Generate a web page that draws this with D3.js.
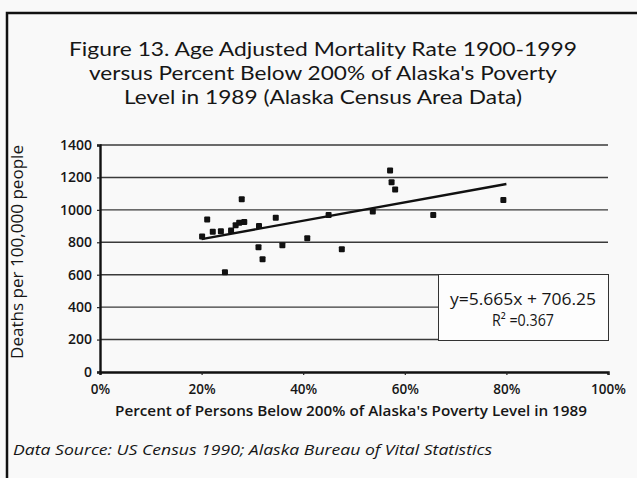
<!DOCTYPE html>
<html>
<head>
<meta charset="utf-8">
<script src="https://cdn.jsdelivr.net/npm/d3@7"></script>
<style>
  html, body { margin: 0; padding: 0; background: #f9f9f9; }
  svg { display: block; }
</style>
</head>
<body>
<div id="chart"></div>
<script>
// Figure 13 - mortality rate vs percent below 200% poverty level (scatter + trend line)

const titleLines = [
    'Figure 13. Age Adjusted Mortality Rate 1900-1999',
    "versus Percent Below 200% of Alaska's Poverty",
    'Level in 1989 (Alaska Census Area Data)'
];
const titleWidths = [508, 468, 398];
const xTicks = [0, 20, 40, 60, 80, 100];
const yTicks = [0, 200, 400, 600, 800, 1000, 1200, 1400];

// percent below 200% poverty level
const povertyPct = [20.1, 21.1, 22.2, 23.8, 24.6, 25.8, 26.7, 27.4, 27.9, 28.4,
                    31.3, 31.2, 32.0, 34.6, 35.9, 40.8, 45.0, 47.6, 53.7, 57.1,
                    57.4, 58.1, 65.6, 79.4];
// deaths per 100,000 people
const deathRate  = [835, 940, 865, 868, 615, 872, 905, 920, 1065, 925,
                    900, 770, 695, 952, 782, 825, 968, 757, 990, 1242,
                    1170, 1125, 968, 1061];

const slope = 5.665;
const intercept = 706.25;
const trendRange = [20, 80];
const equationText = ['y=5.665x + 706.25', 'R² =0.367'];

const xLabel = "Percent of Persons Below 200% of Alaska's Poverty Level in 1989";
const yLabel = 'Deaths per 100,000 people';
const sourceText = 'Data Source: US Census 1990; Alaska Bureau of Vital Statistics';

const width = 637, height = 478;
const plot = { left: 100, right: 608, top: 145, bottom: 372 };
const font = "'Open Sans', 'Noto Sans', sans-serif";
const titleFont = "Lato, 'Open Sans', sans-serif";
const ink = '#161616';

const svg = d3.select('#chart')
    .append('svg')
    .attr('width', width)
    .attr('height', height);

// frame (top and left edges only)
svg.append('path')
    .attr('d', `M7,${height} L7,13 L${width},13`)
    .attr('fill', 'none')
    .attr('stroke', '#111')
    .attr('stroke-width', 2.5);

// title
svg.append('g')
    .selectAll('text')
    .data(titleLines)
    .enter()
    .append('text')
    .attr('x', 323)
    .attr('y', (d, i) => 56 + i * 24)
    .attr('text-anchor', 'middle')
    .attr('textLength', (d, i) => titleWidths[i])
    .attr('lengthAdjust', 'spacingAndGlyphs')
    .style('font-family', titleFont)
    .style('font-size', '20px')
    .style('fill', ink)
    .text(d => d);

const xScale = d3.scaleLinear()
    .domain([0, 100])
    .range([plot.left, plot.right]);

const yScale = d3.scaleLinear()
    .domain([0, 1400])
    .range([plot.bottom, plot.top]);

// grid lines
svg.append('g')
    .selectAll('line')
    .data(yTicks.filter(d => d > 0))
    .enter()
    .append('line')
    .attr('x1', plot.left)
    .attr('x2', plot.right)
    .attr('y1', d => yScale(d))
    .attr('y2', d => yScale(d))
    .attr('stroke', '#3a3a3a')
    .attr('stroke-width', 1.4);

// equation box
const box = svg.append('g');
box.append('rect')
    .attr('x', 438.5)
    .attr('y', 274.5)
    .attr('width', 170)
    .attr('height', 66)
    .attr('fill', '#fdfdfd')
    .attr('stroke', '#333')
    .attr('stroke-width', 1);
box.selectAll('text')
    .data(equationText)
    .enter()
    .append('text')
    .attr('x', 523)
    .attr('y', (d, i) => 305 + i * 21)
    .attr('text-anchor', 'middle')
    .attr('textLength', (d, i) => i === 0 ? 146 : 62)
    .attr('lengthAdjust', 'spacingAndGlyphs')
    .style('font-family', font)
    .style('font-size', '16px')
    .style('fill', ink)
    .text(d => d);

// axes
const xAxis = svg.append('g')
    .attr('transform', `translate(0,${plot.bottom})`)
    .call(d3.axisBottom(xScale)
        .tickValues(xTicks)
        .tickSize(3)
        .tickFormat(d => d + '%'));

const yAxis = svg.append('g')
    .attr('transform', `translate(${plot.left},0)`)
    .call(d3.axisLeft(yScale)
        .tickValues(yTicks)
        .tickSize(3)
        .tickPadding(5)
        .tickFormat(d3.format('d')));

[xAxis, yAxis].forEach(ax => {
    ax.select('.domain')
        .attr('stroke', '#111')
        .attr('stroke-width', 2.4);
    ax.selectAll('.tick line')
        .attr('stroke', '#222')
        .attr('stroke-width', 1.2);
    ax.selectAll('text')
        .style('font-family', font)
        .style('font-size', '13.5px')
        .style('font-weight', '600')
        .style('fill', ink);
});
xAxis.selectAll('text').attr('dy', '1.2em');
yAxis.selectAll('text').attr('textLength', function () {
    return this.textContent.length * 8;
}).attr('lengthAdjust', 'spacingAndGlyphs');

// trend line
svg.append('line')
    .attr('x1', xScale(trendRange[0]))
    .attr('y1', yScale(slope * trendRange[0] + intercept))
    .attr('x2', xScale(trendRange[1]))
    .attr('y2', yScale(slope * trendRange[1] + intercept))
    .attr('stroke', '#111')
    .attr('stroke-width', 2.4);

// points
const points = povertyPct.map((p, i) => ({ x: p, y: deathRate[i] }));
svg.append('g')
    .selectAll('rect')
    .data(points)
    .enter()
    .append('rect')
    .attr('x', d => xScale(d.x) - 3)
    .attr('y', d => yScale(d.y) - 3)
    .attr('width', 6)
    .attr('height', 6)
    .attr('rx', 1)
    .attr('fill', '#111');

// axis titles
svg.append('text')
    .attr('x', 351)
    .attr('y', 416)
    .attr('text-anchor', 'middle')
    .attr('textLength', 472)
    .attr('lengthAdjust', 'spacingAndGlyphs')
    .style('font-family', font)
    .style('font-size', '15px')
    .style('font-weight', '600')
    .style('fill', ink)
    .text(xLabel);

svg.append('text')
    .attr('transform', `translate(23,252) rotate(-90)`)
    .attr('text-anchor', 'middle')
    .attr('textLength', 214)
    .attr('lengthAdjust', 'spacingAndGlyphs')
    .style('font-family', font)
    .style('font-size', '16px')
    .style('fill', ink)
    .text(yLabel);

// source note
svg.append('text')
    .attr('x', 13)
    .attr('y', 455)
    .attr('textLength', 479)
    .attr('lengthAdjust', 'spacingAndGlyphs')
    .style('font-family', font)
    .style('font-size', '15px')
    .style('font-style', 'italic')
    .style('fill', ink)
    .text(sourceText);
</script>
</body>
</html>
